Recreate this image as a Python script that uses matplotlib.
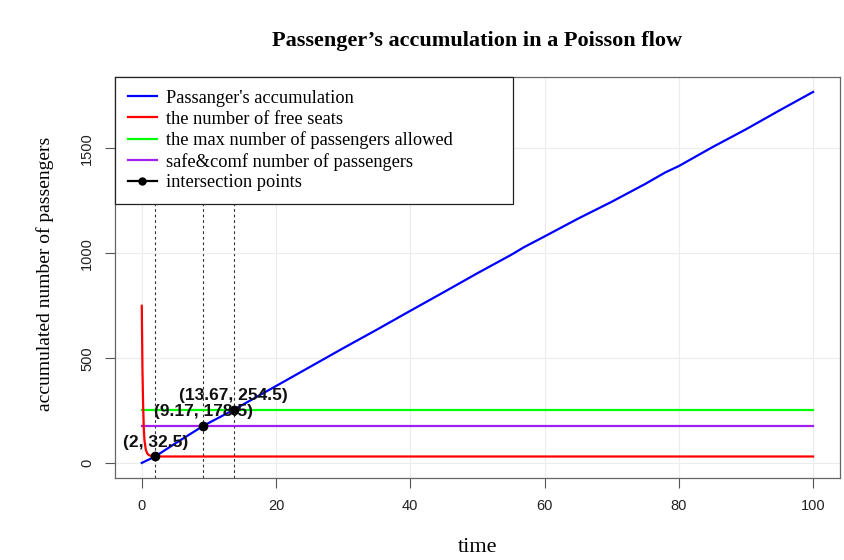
import numpy as np
import matplotlib
matplotlib.use('Agg')
import matplotlib.pyplot as plt

# data
t_acc = [0, 2, 5, 9.17, 13.67, 20, 25, 30, 35, 40, 45, 50, 55, 57, 60, 65, 70, 75, 78, 80, 85, 90, 95, 100]
acc = [2, 32.5, 95, 178.5, 254.5, 368, 458, 548, 636, 726, 815, 905, 992, 1030, 1080, 1165, 1245, 1330, 1385, 1415, 1505, 1590, 1680, 1768]

t_free = [0, 0.05, 0.1, 0.2, 0.3, 0.4, 0.6, 0.8, 1.0, 1.5, 2, 100]
free = [750, 600, 450, 280, 170, 110, 65, 48, 40, 34, 32.5, 32.5]

max_allowed = 254.5
safe_comf = 178.5

ix = [2, 9.17, 13.67]
iy = [32.5, 178.5, 254.5]
ilabels = ['(2, 32.5)', '(9.17, 178.5)', '(13.67, 254.5)']

serif = 'Liberation Serif'
sans = 'Liberation Sans'

fig = plt.figure(figsize=(8.45, 5.6), dpi=100)
ax = fig.add_axes([0.136, 0.146, 0.858, 0.7165])

ax.grid(True, color='#ececec', lw=0.8, zorder=0)
for x in ix:
    ax.axvline(x, color='#333333', ls=(0, (2.5, 2.5)), lw=0.8, zorder=1)

ax.plot(t_acc, acc, color='#0000ff', lw=1.6, label="Passanger's accumulation", zorder=3)
ax.plot(t_free, free, color='#ff0000', lw=1.6, label='the number of free seats', zorder=3)
ax.plot([0, 100], [max_allowed, max_allowed], color='#00ff00', lw=1.6,
        label='the max number of passengers allowed', zorder=2)
ax.plot([0, 100], [safe_comf, safe_comf], color='#a020f0', lw=1.6,
        label='safe&comf number of passengers', zorder=2)
ax.plot(ix, iy, 'o', color='black', ms=6, zorder=4)
ax.plot([], [], '-o', color='black', ms=5, lw=1.6, label='intersection points')

for x, y, s in zip(ix, iy, ilabels):
    ax.annotate(s, (x, y), xytext=(0, 5), textcoords='offset points',
                ha='center', va='bottom', fontsize=12.5, fontweight='bold',
                family=sans, color='#111111', zorder=5)

ax.set_xlim(-4, 104)
ax.set_ylim(-71, 1839)
ax.set_xticks([0, 20, 40, 60, 80, 100])
ax.set_yticks([0, 500, 1000, 1500])
ax.tick_params(direction='out', length=7, width=0.8, color='#555555', labelsize=10.5, pad=8)
for lab in ax.get_xticklabels() + ax.get_yticklabels():
    lab.set_family(sans)
    lab.set_color('#222222')
for lab in ax.get_yticklabels():
    lab.set_rotation(90)
    lab.set_va('center')
for sp in ax.spines.values():
    sp.set_color('#666666')
    sp.set_linewidth(0.9)

ax.set_xlabel('time', family=serif, fontsize=16, va='center')
ax.xaxis.set_label_coords(0.5, -0.172)
ax.set_ylabel('accumulated number of passengers', family=serif, fontsize=14, va='center')
ax.yaxis.set_label_coords(-0.097, 0.51)
fig.text(0.565, 0.926, "Passenger\u2019s accumulation in a Poisson flow", family=serif,
         fontweight='bold', fontsize=16, ha='center', va='center')

leg = ax.legend(loc='upper left', bbox_to_anchor=(0, 0, 0.549, 1), mode='expand',
                prop={'family': serif, 'size': 13.2},
                frameon=True, fancybox=False, framealpha=1, edgecolor='#222222',
                borderaxespad=0, handlelength=1.6, handletextpad=0.5, labelspacing=0.2,
                borderpad=0.7)
leg.get_frame().set_linewidth(0.9)
leg.set_zorder(6)

fig.savefig('out.png', dpi=100)
